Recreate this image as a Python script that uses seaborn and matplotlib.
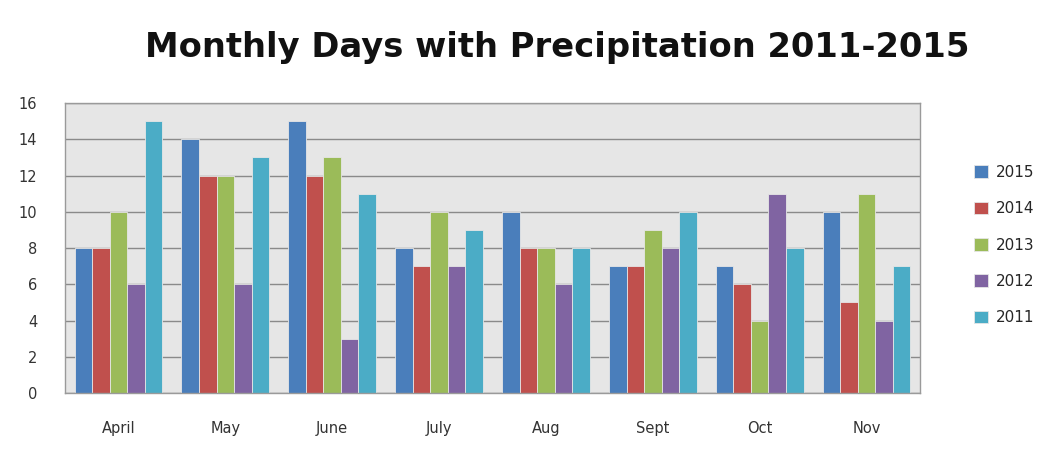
import matplotlib
matplotlib.use("Agg")
import matplotlib.pyplot as plt
import seaborn as sns
import pandas as pd

months = ["April", "May", "June", "July", "Aug", "Sept", "Oct", "Nov"]
years = ["2015", "2014", "2013", "2012", "2011"]
v2015 = [8, 14, 15, 8, 10, 7, 7, 10]
v2014 = [8, 12, 12, 7, 8, 7, 6, 5]
v2013 = [10, 12, 13, 10, 8, 9, 4, 11]
v2012 = [6, 6, 3, 7, 6, 8, 11, 4]
v2011 = [15, 13, 11, 9, 8, 10, 8, 7]
colors = ["#4a7ebb", "#c0504d", "#9bbb59", "#8064a2", "#4bacc6"]

rows = []
for y, vals in zip(years, [v2015, v2014, v2013, v2012, v2011]):
    for m, v in zip(months, vals):
        rows.append({"Month": m, "Year": y, "Days": v})
df = pd.DataFrame(rows)

sns.set_style("white")
fig = plt.figure(figsize=(10.58, 4.51), dpi=100)
ax = fig.add_axes([0.0614, 0.1286, 0.8082, 0.643])
ax.set_facecolor("#e6e6e6")
sns.barplot(data=df, x="Month", y="Days", hue="Year", hue_order=years,
            order=months, palette=colors, width=0.82, ax=ax,
            edgecolor="#e6e6e6", linewidth=0.6, saturation=1, legend=True)
ax.set_ylim(0, 16)
ax.set_yticks(range(0, 17, 2))
ax.yaxis.grid(True, color="#8a8a8a", linewidth=1)
ax.set_axisbelow(True)
ax.set_xlabel("")
ax.set_ylabel("")
ax.tick_params(axis="both", labelsize=10.5, length=0, colors="#333333")
ax.tick_params(axis="x", pad=20)
ax.tick_params(axis="y", pad=20)
for s in ax.spines.values():
    s.set_color("#9a9a9a")
    s.set_linewidth(1)

h, l = ax.get_legend_handles_labels()
ax.get_legend().remove()
fig.legend(h, l, loc="upper left", bbox_to_anchor=(0.908, 0.665),
           frameon=False, fontsize=11, labelspacing=1.4,
           handlelength=0.9, handleheight=0.9, handletextpad=0.5)

fig.text(0.527, 0.895, "Monthly Days with Precipitation 2011-2015",
         ha="center", va="center", fontsize=24.3, fontweight="bold",
         color="#111111")

fig.savefig("out.png", dpi=100)
